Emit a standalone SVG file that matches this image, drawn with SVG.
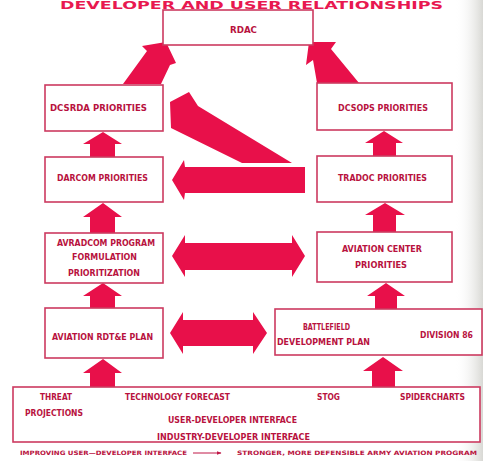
<svg xmlns="http://www.w3.org/2000/svg" width="483" height="461" viewBox="0 0 483 461">
<defs>
<linearGradient id="edge" x1="0" y1="0" x2="1" y2="0">
<stop offset="0" stop-color="#ffffff" stop-opacity="0"/>
<stop offset="1" stop-color="#d8d8d4"/>
</linearGradient>
<marker id="ah" viewBox="0 0 10 10" refX="9" refY="5" markerWidth="5" markerHeight="5" orient="auto"><path d="M0,1 L10,5 L0,9 Z" fill="#c01848"/></marker>
</defs>
<style>
.box{fill:#fff;stroke:#cc3a60;stroke-width:1.6}
.t{font-family:"DejaVu Sans Condensed","DejaVu Sans",sans-serif;font-weight:bold;font-size:8.5px;fill:#b8123e}
.c{font-size:6px}
.ttl{font-family:"DejaVu Sans","Liberation Sans",sans-serif;font-weight:bold;font-size:10px;fill:#e81850}
.ar{fill:#e8104a}
</style>
<rect width="483" height="461" fill="#fff"/>
<rect x="455" y="0" width="28" height="461" fill="url(#edge)"/>
<text class="ttl" x="60" y="8.5" textLength="383" lengthAdjust="spacingAndGlyphs">DEVELOPER AND USER RELATIONSHIPS</text>

<g id="connectors">
<polygon class="ar" points="123,84 147,51 142,46 166,42 176,63 170,65 161,84"/>
<polygon class="ar" points="317,83 313,60 306,65 309,42 336,42 331,49 359,83"/>
<polygon class="ar" points="242,163 292,163 198,106 189,92 170,102 171,128"/>
<polygon class="ar" points="305,167 185,167 184,160 172,180 184,200 185,193 305,193"/>
<polygon class="ar" points="172,256 185,235 185,243 292,243 292,235 305,256 292,277 292,270 185,270 185,277"/>
<polygon class="ar" points="170,333 183,312 183,320 253,320 253,312 267,333 253,354 253,346 183,346 183,354"/>
<polygon class="ar" points="90,387 90,373 83,373 103,359 122,373 115,373 115,387"/>
<polygon class="ar" points="90,308 90,296 83,296 103,283 122,296 115,296 115,308"/>
<polygon class="ar" points="90,233 90,217 83,217 103,203 122,217 115,217 115,233"/>
<polygon class="ar" points="90,157 90,144 83,144 103,132 122,144 115,144 115,157"/>
<polygon class="ar" points="372,387 372,371 363,371 383,357 403,371 395,371 395,387"/>
<polygon class="ar" points="375,309 375,296 367,296 386,283 405,296 397,296 397,309"/>
<polygon class="ar" points="373,232 373,215 365,215 385,203 405,215 396,215 396,232"/>
<polygon class="ar" points="373,156 373,143 365,143 384,131 403,143 396,143 396,156"/>
</g>

<g id="rdac"><rect class="box" x="163" y="10" width="150" height="35"/><text class="t" x="230" y="33" textLength="27" lengthAdjust="spacingAndGlyphs">RDAC</text></g>
<g id="dcsrda"><rect class="box" x="45" y="85" width="118" height="46"/><text class="t" x="50" y="111" textLength="97" lengthAdjust="spacingAndGlyphs">DCSRDA PRIORITIES</text></g>
<g id="dcsops"><rect class="box" x="317" y="83" width="135" height="47"/><text class="t" x="338" y="111" textLength="90" lengthAdjust="spacingAndGlyphs">DCSOPS PRIORITIES</text></g>
<g id="darcom"><rect class="box" x="45" y="157" width="118" height="45"/><text class="t" x="57" y="181" textLength="91" lengthAdjust="spacingAndGlyphs">DARCOM PRIORITIES</text></g>
<g id="tradoc"><rect class="box" x="317" y="156" width="135" height="46"/><text class="t" x="338" y="181" textLength="89" lengthAdjust="spacingAndGlyphs">TRADOC PRIORITIES</text></g>
<g id="avradcom"><rect class="box" x="45" y="233" width="118" height="50"/>
<text class="t" x="57" y="246" textLength="98" lengthAdjust="spacingAndGlyphs">AVRADCOM PROGRAM</text>
<text class="t" x="72" y="260" textLength="65" lengthAdjust="spacingAndGlyphs">FORMULATION</text>
<text class="t" x="68" y="276" textLength="72" lengthAdjust="spacingAndGlyphs">PRIORITIZATION</text></g>
<g id="avcenter"><rect class="box" x="317" y="232" width="135" height="50"/>
<text class="t" x="342" y="252" textLength="80" lengthAdjust="spacingAndGlyphs">AVIATION CENTER</text>
<text class="t" x="355" y="268" textLength="52" lengthAdjust="spacingAndGlyphs">PRIORITIES</text></g>
<g id="rdte"><rect class="box" x="45" y="308" width="118" height="50"/><text class="t" x="52" y="340" textLength="101" lengthAdjust="spacingAndGlyphs">AVIATION RDT&amp;E PLAN</text></g>
<g id="battlefield"><rect class="box" x="275" y="309" width="207" height="46"/>
<text class="t" x="303" y="330" textLength="47" lengthAdjust="spacingAndGlyphs">BATTLEFIELD</text>
<text class="t" x="277" y="345" textLength="93" lengthAdjust="spacingAndGlyphs">DEVELOPMENT PLAN</text>
<text class="t" x="420" y="338" textLength="53" lengthAdjust="spacingAndGlyphs">DIVISION 86</text></g>
<g id="inputs"><rect class="box" x="13" y="387" width="467" height="55"/>
<text class="t" x="40" y="400" textLength="32" lengthAdjust="spacingAndGlyphs">THREAT</text>
<text class="t" x="25" y="416" textLength="58" lengthAdjust="spacingAndGlyphs">PROJECTIONS</text>
<text class="t" x="125" y="400" textLength="105" lengthAdjust="spacingAndGlyphs">TECHNOLOGY FORECAST</text>
<text class="t" x="317" y="400" textLength="23" lengthAdjust="spacingAndGlyphs">STOG</text>
<text class="t" x="400" y="400" textLength="65" lengthAdjust="spacingAndGlyphs">SPIDERCHARTS</text>
<text class="t" x="168" y="423" textLength="129" lengthAdjust="spacingAndGlyphs">USER-DEVELOPER INTERFACE</text>
<text class="t" x="157" y="440" textLength="153" lengthAdjust="spacingAndGlyphs">INDUSTRY-DEVELOPER INTERFACE</text></g>
<g id="caption">
<text class="t c" x="20" y="455" textLength="167" lengthAdjust="spacingAndGlyphs">IMPROVING USER—DEVELOPER INTERFACE</text>
<line x1="193" y1="453" x2="221" y2="453" stroke="#c01848" stroke-width="1" marker-end="url(#ah)"/>
<text class="t c" x="237" y="455" textLength="240" lengthAdjust="spacingAndGlyphs">STRONGER, MORE DEFENSIBLE ARMY AVIATION PROGRAM</text>
</g>
</svg>
